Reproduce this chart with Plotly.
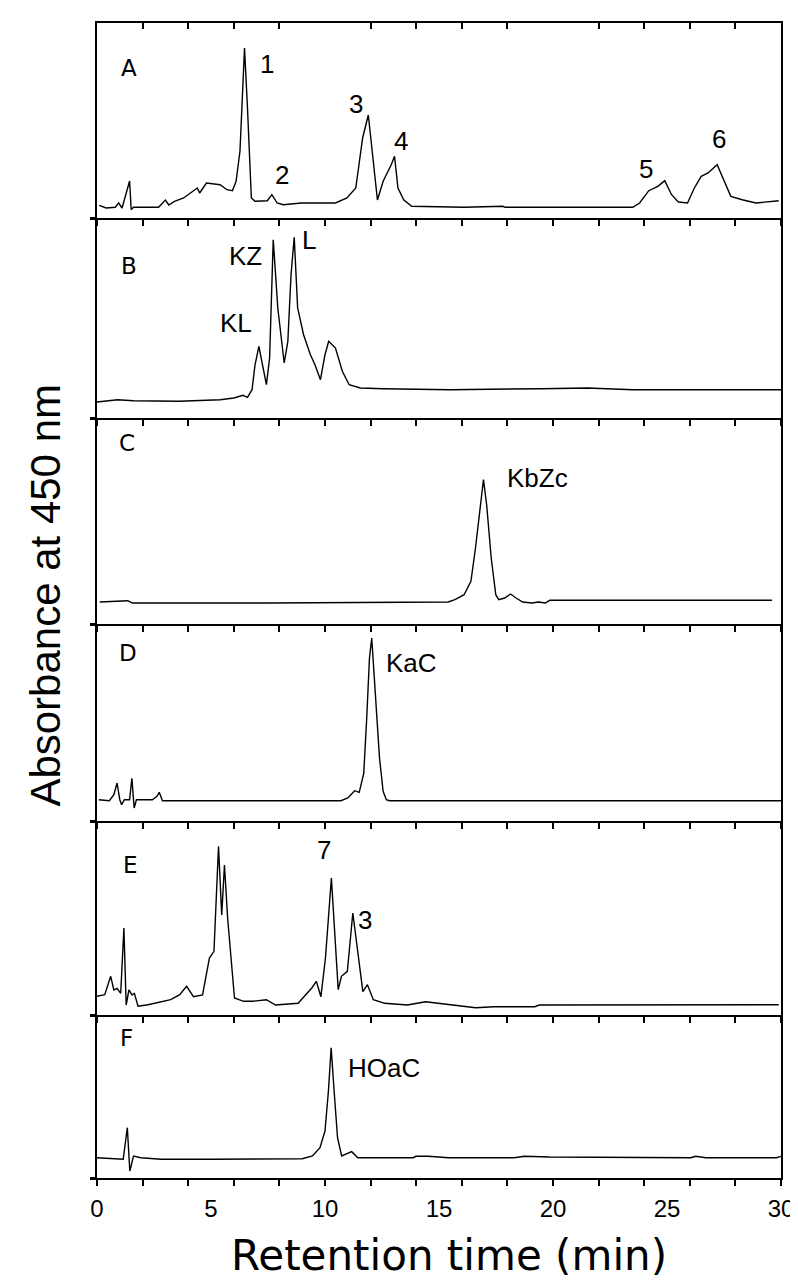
import plotly.graph_objects as go

# ---------------- data (retention time in min, absorbance in arbitrary units) ----------------
a_t = [0.1, 0.4, 0.8, 0.95, 1.1, 1.43, 1.5, 1.6, 2.7, 3.0, 3.15, 3.4, 3.8, 4.4, 4.5, 4.8, 5.4, 5.7, 5.94,
       6.1, 6.27, 6.47, 6.6, 6.77, 6.93, 7.47, 7.67, 7.9, 8.17, 8.96, 10.46, 10.96, 11.35, 11.65, 11.9,
       12.05, 12.3, 12.55, 12.9, 13.05, 13.2, 13.45, 13.8, 16.1, 17.1, 17.8, 17.9, 22.5, 23.5, 23.8,
       24.2, 24.6, 24.9, 25.2, 25.5, 25.9, 26.2, 26.5, 26.8, 27.2, 27.5, 27.8, 28.3, 28.9, 29.9]
a_y = [12.7, 10.0, 10.7, 15.0, 10.0, 37.0, 8.3, 10.7, 10.7, 18.0, 13.0, 16.7, 20.0, 30.0, 25.0, 35.0, 33.3, 28.3, 27.3,
       36.7, 66.7, 170.0, 110.0, 20.0, 16.7, 17.3, 23.3, 15.0, 13.3, 15.0, 15.0, 20.0, 30.0, 80.0, 103.0,
       70.0, 18.0, 36.7, 53.0, 61.7, 30.0, 18.3, 11.7, 10.7, 11.7, 11.7, 10.7, 10.7, 10.7, 15.0,
       27.3, 31.7, 37.3, 23.3, 16.0, 15.0, 30.0, 41.7, 45.0, 53.3, 36.7, 21.7, 18.3, 15.0, 17.3]

b_t = [0.0, 0.9, 1.6, 3.6, 5.4, 6.0, 6.4, 6.6, 6.8, 6.93, 7.1, 7.27, 7.43, 7.57, 7.73, 7.93, 8.21, 8.37,
       8.51, 8.65, 8.8, 9.06, 9.36, 9.56, 9.8, 10.0, 10.16, 10.46, 10.76, 11.06, 11.55, 12.55, 15.5,
       19.5, 21.5, 23.5, 30.0]
b_y = [16.0, 18.3, 17.3, 16.7, 18.3, 20.0, 22.7, 20.7, 28.3, 53.0, 71.7, 50.0, 33.3, 60.0, 178.3, 110.0, 55.0, 76.7,
       143.3, 180.7, 110.0, 83.3, 63.3, 53.3, 38.3, 63.3, 76.7, 70.0, 46.7, 33.3, 30.0, 29.3, 28.3,
       29.3, 30.0, 28.3, 28.3]

c_t = [0.12, 1.35, 1.55, 7.5, 15.4, 15.7, 16.1, 16.4, 16.6, 16.8, 16.95, 17.09, 17.29, 17.49, 17.62,
       17.88, 18.14, 18.38, 18.67, 19.07, 19.37, 19.66, 19.86, 29.6]
c_y = [22.0, 23.3, 21.0, 21.0, 22.0, 24.3, 29.3, 42.7, 76.0, 116.0, 144.3, 119.3, 66.0, 29.3, 24.3,
       26.0, 30.0, 26.0, 22.0, 21.0, 22.0, 21.0, 23.7, 23.7]

d_t = [0.08, 0.54, 0.74, 0.88, 1.0, 1.08, 1.2, 1.43, 1.53, 1.63, 1.73, 2.03, 2.43, 2.63, 2.73, 2.87,
       10.7, 11.0, 11.3, 11.5, 11.7, 11.83, 11.95, 12.05, 12.19, 12.39, 12.55, 12.69, 12.83, 26.3, 30.0]
d_y = [21.3, 20.3, 26.3, 38.0, 21.3, 16.3, 21.3, 21.3, 42.7, 13.0, 21.3, 21.3, 21.3, 24.7, 28.7, 20.3,
       20.3, 23.0, 30.3, 28.7, 47.7, 103.0, 163.0, 183.0, 129.7, 63.0, 29.7, 21.3, 20.3, 20.3, 20.3]

e_t = [0.0, 0.34, 0.6, 0.74, 0.88, 1.04, 1.18, 1.28, 1.4, 1.54, 1.64, 1.8, 2.24, 2.83, 3.23, 3.63, 3.93,
       4.23, 4.63, 4.93, 5.13, 5.33, 5.47, 5.59, 5.73, 6.03, 6.43, 6.83, 7.43, 7.83, 8.82, 9.42, 9.62,
       9.82, 10.02, 10.28, 10.42, 10.58, 10.72, 10.98, 11.22, 11.42, 11.66, 11.86, 12.12, 12.62, 13.61,
       14.41, 15.61, 16.61, 17.41, 19.2, 19.4, 25.6, 29.9]
e_y = [18.7, 20.3, 38.7, 25.0, 26.7, 21.7, 87.0, 10.0, 25.0, 20.0, 21.7, 8.7, 10.3, 13.7, 15.3, 20.3, 28.7,
       18.3, 20.0, 57.0, 63.7, 168.7, 100.0, 150.0, 96.7, 17.0, 13.7, 13.7, 15.3, 10.0, 11.7, 27.0, 33.7,
       18.3, 57.0, 137.0, 80.3, 25.3, 38.7, 43.7, 102.0, 63.7, 23.3, 30.3, 15.3, 11.7, 10.0, 13.3, 10.0,
       7.3, 8.3, 8.3, 10.0, 10.0, 10.3]

f_t = [0.0, 0.6, 1.15, 1.33, 1.44, 1.6, 1.92, 2.81, 4.58, 5.02, 9.0, 9.45, 9.78, 10.0, 10.15, 10.27,
       10.4, 10.55, 10.73, 10.95, 11.17, 11.44, 13.87, 13.98, 14.53, 15.42, 18.3, 18.74, 19.85, 26.04,
       26.26, 26.7, 29.8, 30.0]
f_y = [20.3, 19.3, 18.7, 50.3, 7.0, 22.0, 20.3, 18.7, 19.3, 18.7, 19.3, 22.0, 30.3, 47.0, 87.0, 130.3,
       87.0, 40.3, 22.0, 24.3, 26.3, 20.3, 20.3, 21.7, 21.7, 20.3, 20.3, 21.7, 21.0, 20.3,
       21.7, 20.3, 20.3, 21.7]

panel_letters = ["A", "B", "C", "D", "E", "F"]
letter_pos = [(1.4, 150), (1.4, 152), (1.3, 181), (1.35, 168), (1.45, 150), (1.3, 140)]

peak_labels = [
    (0, "1", 7.45, 154), (0, "2", 8.1, 43), (0, "3", 11.35, 114), (0, "4", 13.35, 77),
    (0, "5", 24.1, 49), (0, "6", 27.3, 79),
    (1, "KZ", 6.5, 162), (1, "KL", 6.1, 95), (1, "L", 9.3, 178),
    (2, "KbZc", 19.3, 146),
    (3, "KaC", 13.8, 158),
    (4, "7", 9.95, 165), (4, "3", 11.75, 95),
    (5, "HOaC", 12.6, 110),
]

x_tick_vals = [0, 5, 10, 15, 20, 25, 30]
x_tick_text = ["0", "5", "10", "15", "20", "25", "30"]

series = [(a_t, a_y), (b_t, b_y), (c_t, c_y), (d_t, d_y), (e_t, e_y), (f_t, f_y)]

# ---------------- layout geometry ----------------
W, H = 798, 1288
left, right = 89, 781
borders = [15, 210, 410, 616, 813, 1007, 1170]   # pixel rows of the panel frames
top_m, bot_m = borders[0], H - borders[-1]
plot_h = borders[-1] - borders[0]


def frac(py):
    return (borders[-1] - py) / plot_h


fig = go.Figure()
layout = dict(
    width=W, height=H, autosize=False,
    margin=dict(l=left, r=W - right, t=top_m, b=bot_m),
    paper_bgcolor="white", plot_bgcolor="white",
    showlegend=False,
    font=dict(family="Liberation Sans, Arial, sans-serif", color="black"),
)

annotations = []
for i, (tt, yy) in enumerate(series):
    n = i + 1
    xa = "x" if n == 1 else f"x{n}"
    ya = "y" if n == 1 else f"y{n}"
    fig.add_trace(go.Scatter(x=tt, y=yy, mode="lines", xaxis=xa, yaxis=ya,
                             line=dict(color="black", width=1.4), hoverinfo="skip"))
    hpx = borders[i + 1] - borders[i]
    xkey = "xaxis" if n == 1 else f"xaxis{n}"
    ykey = "yaxis" if n == 1 else f"yaxis{n}"
    last = (n == 6)
    layout[xkey] = dict(
        domain=[0, 1], anchor=ya, range=[0, 30],
        showline=True, linecolor="black", linewidth=2, mirror=(n == 1),
        showgrid=False, zeroline=False,
        ticks="", tickvals=x_tick_vals, ticktext=x_tick_text,
        showticklabels=last,
        tickfont=dict(size=24, family="Liberation Sans, Arial, sans-serif"),
        ticklabelstandoff=8,
        minor=dict(ticks="outside", tick0=0, dtick=2, ticklen=6, tickwidth=1.5, tickcolor="black",
                   showgrid=False),
    )
    if n != 1:
        layout[xkey]["matches"] = "x"
    layout[ykey] = dict(
        domain=[frac(borders[i + 1]), frac(borders[i])], anchor=xa, range=[0, hpx],
        showline=True, linecolor="black", linewidth=2, mirror=True,
        showgrid=False, zeroline=False, showticklabels=False,
        tickvals=[0], ticks="outside", ticklen=5, tickwidth=3, tickcolor="black",
    )
    lx, ly = letter_pos[i]
    annotations.append(dict(x=lx, y=ly, xref=xa, yref=ya, text=panel_letters[i], showarrow=False,
                            font=dict(size=23, family="DejaVu Sans, sans-serif"),
                            xanchor="center", yanchor="middle"))

# inward ticks on the top frame of panel A
fig.add_trace(go.Scatter(x=[0, 30], y=[None, None], mode="lines", xaxis="x7", yaxis="y",
                         hoverinfo="skip", showlegend=False))
layout["xaxis7"] = dict(overlaying="x", side="top", anchor="y", range=[0, 30], matches="x",
                        showline=False, showgrid=False, zeroline=False, ticks="", showticklabels=False,
                        minor=dict(ticks="inside", tick0=0, dtick=2, ticklen=6, tickwidth=1.5,
                                   tickcolor="black", showgrid=False))

for (pi, txt, px, py) in peak_labels:
    n = pi + 1
    xa = "x" if n == 1 else f"x{n}"
    ya = "y" if n == 1 else f"y{n}"
    annotations.append(dict(x=px, y=py, xref=xa, yref=ya, text=txt, showarrow=False,
                            font=dict(size=26, family="Liberation Sans, Arial, sans-serif"),
                            xanchor="center", yanchor="middle"))

# axis titles (positions given in pixels, converted to paper fractions)
annotations.append(dict(x=((left + right) / 2 + 10 - left) / (right - left),
                        y=(borders[-1] - 1247) / plot_h, xref="paper", yref="paper",
                        text="Retention time (min)", showarrow=False,
                        font=dict(size=42, family="DejaVu Sans, sans-serif"),
                        xanchor="center", yanchor="middle"))
annotations.append(dict(x=(36 - left) / (right - left), y=(borders[-1] - 587) / plot_h,
                        xref="paper", yref="paper", text="Absorbance at 450 nm",
                        showarrow=False, textangle=-90,
                        font=dict(size=42, family="Liberation Sans, Arial, sans-serif"),
                        xanchor="center", yanchor="middle"))

layout["annotations"] = annotations
fig.update_layout(**layout)
fig.write_html("out.html")
